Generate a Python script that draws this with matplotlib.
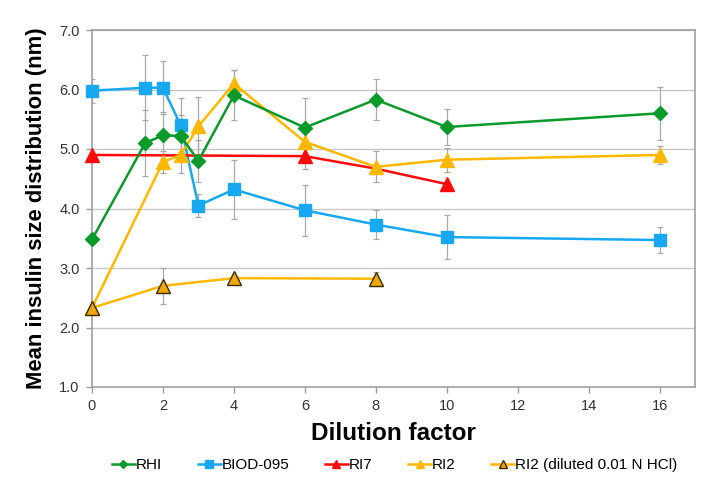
import matplotlib
matplotlib.use("Agg")
import matplotlib.pyplot as plt

plt.rcParams['font.family'] = ['Liberation Sans', 'DejaVu Sans']

# RHI
rhi_x = [0, 1.5, 2, 2.5, 3, 4, 6, 8, 10, 16]
rhi_y = [3.48, 5.10, 5.23, 5.22, 4.80, 5.90, 5.36, 5.83, 5.37, 5.60]
rhi_err = [0.0, 0.55, 0.40, 0.35, 0.35, 0.42, 0.50, 0.35, 0.30, 0.45]

# BIOD-095
biod_x = [0, 1.5, 2, 2.5, 3, 4, 6, 8, 10, 16]
biod_y = [5.98, 6.03, 6.03, 5.40, 4.05, 4.32, 3.97, 3.73, 3.52, 3.47]
biod_err = [0.20, 0.55, 0.45, 0.45, 0.20, 0.50, 0.43, 0.24, 0.37, 0.22]

# RI7
ri7_x = [0, 6, 8, 10]
ri7_y = [4.90, 4.88, 4.67, 4.41]
ri7_err = [0.0, 0.22, 0.0, 0.0]

# RI2
ri2_x = [0, 2, 2.5, 3, 4, 6, 8, 10, 16]
ri2_y = [2.33, 4.78, 4.90, 5.38, 6.10, 5.12, 4.70, 4.82, 4.90]
ri2_err = [0.0, 0.18, 0.30, 0.50, 0.22, 0.30, 0.26, 0.20, 0.15]

# RI2 (diluted 0.01 N HCl)
ri2d_x = [0, 2, 4, 8]
ri2d_y = [2.33, 2.70, 2.83, 2.82]
ri2d_err = [0.0, 0.30, 0.0, 0.12]

x_ticks = [0, 2, 4, 6, 8, 10, 12, 14, 16]
y_ticks = [1.0, 2.0, 3.0, 4.0, 5.0, 6.0, 7.0]

fig = plt.figure(figsize=(7.24, 4.88), dpi=100)
ax = fig.add_axes([92/724, 1 - 387/488, (695-92)/724, (387-30)/488])

ecol = '#a8a8a8'
def ebar(x, y, e):
    ax.errorbar(x, y, yerr=e, fmt='none', ecolor=ecol, elinewidth=0.9,
                capsize=2, capthick=0.9, zorder=2)

for x, y, e in [(rhi_x, rhi_y, rhi_err), (biod_x, biod_y, biod_err),
                (ri7_x, ri7_y, ri7_err), (ri2_x, ri2_y, ri2_err),
                (ri2d_x, ri2d_y, ri2d_err)]:
    ebar(x, y, e)

green = '#0a9a2a'
blue = '#18a8f0'
red = '#ff0a0a'
amber = '#ffb800'

ax.plot(rhi_x, rhi_y, color=green, lw=1.8, marker='D', ms=7,
        mfc=green, mec=green, label='RHI', zorder=4, clip_on=False)
ax.plot(biod_x, biod_y, color=blue, lw=1.8, marker='s', ms=9,
        mfc=blue, mec=blue, label='BIOD-095', zorder=3, clip_on=False)
ax.plot(ri7_x, ri7_y, color=red, lw=1.8, marker='^', ms=10,
        mfc=red, mec=red, markevery=[0, 1, 3], label='RI7', zorder=3,
        clip_on=False)
ax.plot(ri2_x, ri2_y, color=amber, lw=1.8, marker='^', ms=10,
        mfc=amber, mec=amber, label='RI2', zorder=3, clip_on=False)
ax.plot(ri2d_x, ri2d_y, color=amber, lw=1.8, marker='^', ms=10,
        mfc='#f0a800', mec='#3a2a00', mew=1.0,
        label='RI2 (diluted 0.01 N HCl)', zorder=5, clip_on=False)

ax.set_xlim(0, 17)
ax.set_ylim(1.0, 7.0)
ax.set_xticks(x_ticks)
ax.set_yticks(y_ticks)
ax.set_xticklabels([str(t) for t in x_ticks])
ax.set_yticklabels([f'{t:.1f}' for t in y_ticks])
ax.tick_params(axis='both', labelsize=10.5, colors='#333333', length=4,
               width=1, direction='out', color='#999999', pad=5)
ax.grid(axis='y', color='#c8c8c8', lw=1)
ax.set_axisbelow(True)
for s in ax.spines.values():
    s.set_color('#a0a0a0')
    s.set_linewidth(1.2)

ax.set_xlabel('Dilution factor', fontsize=17.5, fontweight='bold', labelpad=6)
ax.set_ylabel('Mean insulin size distribution (nm)', fontsize=15.8,
              fontweight='bold', labelpad=9)

leg = fig.legend(loc='center', bbox_to_anchor=(0.545, 1 - 465/488), ncol=5,
                 frameon=False, fontsize=11, handlelength=1.5,
                 columnspacing=2.35, handletextpad=0.05, markerscale=0.6)

fig.savefig('out.png', dpi=100)
